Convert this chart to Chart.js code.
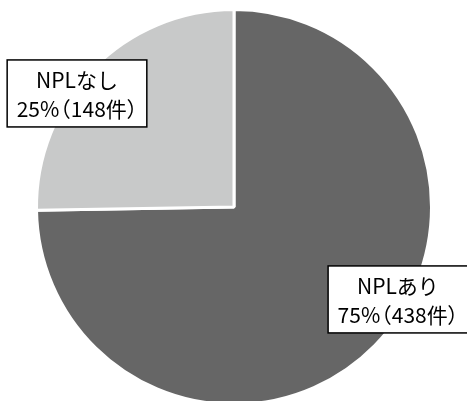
<!DOCTYPE html>
<html>
<head>
<meta charset="utf-8">
<script src="https://cdn.jsdelivr.net/npm/chart.js@4.4.1/dist/chart.umd.min.js"></script>
<style>
  html, body { margin: 0; padding: 0; background: #ffffff; overflow: hidden; }
  #wrap { width: 467px; height: 410px; }
</style>
</head>
<body>
<div id="wrap"><canvas id="pie" width="467" height="410"></canvas></div>
<script>
// NPL share of cases
const categories = ['NPLあり', 'NPLなし'];
const counts = [438, 148];
const shareLabels = ['75%（438件）', '25%（148件）'];
const sliceColors = ['#666666', '#c8c9c9'];

// Callout boxes: centre given as a fraction of the pie radius from the pie centre
const calloutPlacement = [
  { dx: 0.83, dy: 0.468 },
  { dx: -0.795, dy: -0.575 }
];

// Full-width brackets are set with proportional (half-width) advances
const FONT_PX = 21;
function glyphRuns(ctx, text) {
  const em = FONT_PX;
  let x = 0;
  const runs = [];
  for (const ch of text) {
    const w = ctx.measureText(ch).width;
    if (ch === '（') {
      runs.push({ ch, x: x - 0.45 * em });
      x += 0.55 * em;
    } else if (ch === '）') {
      runs.push({ ch, x: x - 0.02 * em });
      x += 0.5 * em;
    } else {
      runs.push({ ch, x });
      x += w;
    }
  }
  return { runs, width: x };
}

const calloutPlugin = {
  id: 'callouts',
  afterDraw(chart) {
    const ctx = chart.ctx;
    const meta = chart.getDatasetMeta(0);
    const lineGap = 29;
    ctx.save();
    ctx.font = FONT_PX + 'px "Noto Sans CJK JP", "Noto Sans", sans-serif';
    meta.data.forEach((arc, i) => {
      const lines = [categories[i], shareLabels[i]].map(t => glyphRuns(ctx, t));
      const r = arc.outerRadius;
      const cx = arc.x + calloutPlacement[i].dx * r;
      const cy = arc.y + calloutPlacement[i].dy * r;
      const w = Math.max(...lines.map(l => l.width)) + 19;
      const h = lineGap * 2 + 9;
      ctx.fillStyle = '#ffffff';
      ctx.fillRect(cx - w / 2, cy - h / 2, w, h);
      ctx.strokeStyle = '#000000';
      ctx.lineWidth = 1.5;
      ctx.strokeRect(cx - w / 2, cy - h / 2, w, h);
      ctx.fillStyle = '#000000';
      ctx.textAlign = 'left';
      ctx.textBaseline = 'middle';
      lines.forEach((line, k) => {
        const x0 = cx - line.width / 2;
        const y = cy + (k === 0 ? -lineGap / 2 : lineGap / 2) + 1;
        line.runs.forEach(run => ctx.fillText(run.ch, x0 + run.x, y));
      });
    });
    ctx.restore();
  }
};

new Chart(document.getElementById('pie'), {
  type: 'pie',
  data: {
    labels: categories,
    datasets: [{
      data: counts,
      backgroundColor: sliceColors,
      borderColor: '#ffffff',
      borderWidth: 3
    }]
  },
  options: {
    responsive: false,
    animation: false,
    layout: { padding: { top: 8, bottom: 4, left: 1, right: 0 } },
    plugins: {
      legend: { display: false },
      tooltip: { enabled: false }
    }
  },
  plugins: [calloutPlugin]
});
</script>
</body>
</html>
